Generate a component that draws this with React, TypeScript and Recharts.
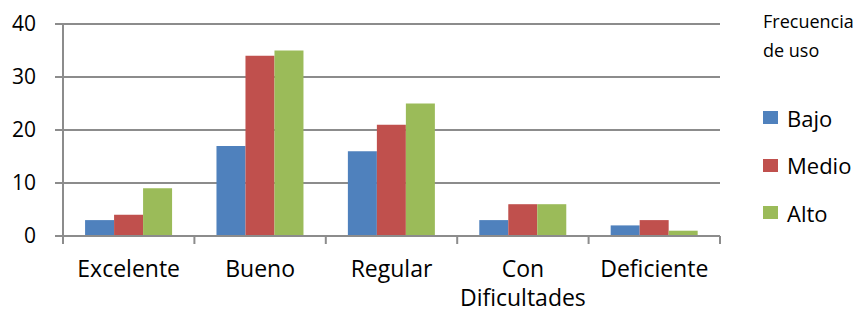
import { Bar, BarChart, CartesianGrid, XAxis, YAxis } from "recharts";

const categories = ["Excelente", "Bueno", "Regular", "Con Dificultades", "Deficiente"];
const bajo = [3, 17, 16, 3, 2];
const medio = [4, 34, 21, 6, 3];
const alto = [9, 35, 25, 6, 1];
const yTicks = [0, 10, 20, 30, 40];

const series = [
  { key: "bajo", name: "Bajo", color: "#4F81BD" },
  { key: "medio", name: "Medio", color: "#C0504D" },
  { key: "alto", name: "Alto", color: "#9BBB59" },
];

const data = categories.map((name, i) => ({
  name,
  bajo: bajo[i],
  medio: medio[i],
  alto: alto[i],
}));

const W = 858;
const H = 313;
const xAxisHeight = 30;
const margin = { top: 24, right: 138, bottom: 77 - xAxisHeight, left: 0 };
const yAxisWidth = 63;
const font = "'Open Sans', sans-serif";
const axisColor = "#8c8c8c";

const plotWidth = W - margin.left - margin.right - yAxisWidth;
const band = plotWidth / categories.length;

// ticks sit on the category boundaries, labels in the middle
const CategoryTick = (props: any) => {
  const { x, y, payload, index } = props;
  const label: string = payload.value;
  const lines = label.length > 12 ? label.split(" ") : [label];
  return (
    <g>
      <line x1={x - band / 2} x2={x - band / 2} y1={y - 8} y2={y} stroke={axisColor} strokeWidth={2} />
      {index === categories.length - 1 && (
        <line x1={x + band / 2} x2={x + band / 2} y1={y - 8} y2={y} stroke={axisColor} strokeWidth={2} />
      )}
      <text x={x} y={y + 33} textAnchor="middle" fill="#000" fontSize={23} fontFamily={font}>
        {lines.map((l, i) => (
          <tspan key={i} x={x} dy={i === 0 ? 0 : 29}>
            {l}
          </tspan>
        ))}
      </text>
    </g>
  );
};

const LegendBox = () => (
  <div style={{ position: "absolute", left: 763, top: 7, fontFamily: font, color: "#000" }}>
    <div style={{ fontSize: 18, lineHeight: "29px", width: 95 }}>Frecuencia de uso</div>
    <div style={{ marginTop: 29 }}>
      {series.map((s) => (
        <div key={s.key} style={{ display: "flex", alignItems: "center", height: 47.5 }}>
          <div style={{ width: 15, height: 13, background: s.color, marginRight: 9 }} />
          <span style={{ fontSize: 22 }}>{s.name}</span>
        </div>
      ))}
    </div>
  </div>
);

export default function App() {
  return (
    <div style={{ position: "absolute", left: 0, top: 0, width: W, height: H, background: "#fff" }}>
      <BarChart width={W} height={H} data={data} margin={margin} barGap={0} barCategoryGap="16.8%">
        <CartesianGrid vertical={false} stroke={axisColor} strokeWidth={2} />
        <XAxis
          dataKey="name"
          height={xAxisHeight}
          stroke={axisColor}
          strokeWidth={2}
          tickLine={false}
          tick={<CategoryTick />}
          interval={0}
        />
        <YAxis
          domain={[0, 40]}
          ticks={yTicks}
          width={yAxisWidth}
          stroke={axisColor}
          strokeWidth={2}
          tickSize={8}
          tickMargin={19}
          tick={{ fill: "#000", fontSize: 21, fontFamily: font }}
        />
        {series.map((s) => (
          <Bar key={s.key} dataKey={s.key} name={s.name} fill={s.color} isAnimationActive={false} />
        ))}
      </BarChart>
      <LegendBox />
    </div>
  );
}
